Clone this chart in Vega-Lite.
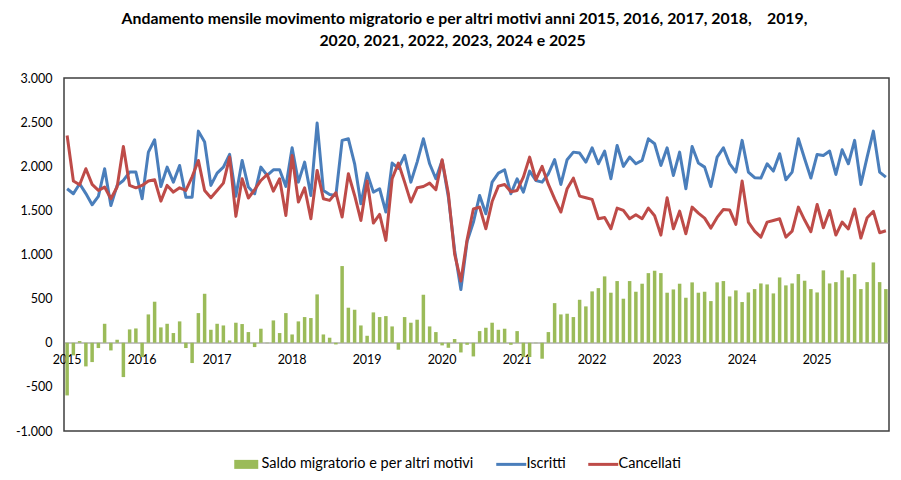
{
  "$schema": "https://vega.github.io/schema/vega-lite/v6.json",
  "width": 825,
  "height": 353,
  "autosize": {"type": "none"},
  "padding": {"left": 64, "top": 78, "right": 12, "bottom": 49},
  "background": "white",
  "title": {
    "text": ["Andamento mensile movimento migratorio e per altri motivi anni 2015, 2016, 2017, 2018,\u00a0\u00a0\u00a0 2019,", "2020, 2021, 2022, 2023, 2024 e 2025\u2800\u2800"],
    "font": "Lato",
    "fontSize": 15.8,
    "fontWeight": "bold",
    "color": "#000000",
    "anchor": "middle",
    "frame": "group",
    "dx": -12,
    "offset": 22,
    "lineHeight": 22
  },
  "config": {
    "locale": {"number": {"decimal": ",", "thousands": ".", "grouping": [3], "currency": ["€", ""], "minus": "-"}},
    "view": {"stroke": "#3F3F3F", "strokeWidth": 1.5},
    "axis": {"labelFont": "Lato", "labelFontSize": 12.5, "labelColor": "#000000", "grid": false, "ticks": false, "title": null},
    "legend": {"labelFont": "Lato", "labelFontSize": 14.5, "labelColor": "#000000"}
  },
  "data": {"values": [
    {"mese":"2015-01","iscritti":1745,"cancellati":2349,"saldo":-597},
    {"mese":"2015-02","iscritti":1688,"cancellati":1832,"saldo":-143},
    {"mese":"2015-03","iscritti":1802,"cancellati":1790,"saldo":19},
    {"mese":"2015-04","iscritti":1690,"cancellati":1972,"saldo":-268},
    {"mese":"2015-05","iscritti":1564,"cancellati":1794,"saldo":-219},
    {"mese":"2015-06","iscritti":1658,"cancellati":1726,"saldo":-60},
    {"mese":"2015-07","iscritti":1972,"cancellati":1764,"saldo":215},
    {"mese":"2015-08","iscritti":1556,"cancellati":1632,"saldo":-87},
    {"mese":"2015-09","iscritti":1783,"cancellati":1764,"saldo":34},
    {"mese":"2015-10","iscritti":1839,"cancellati":2225,"saldo":-389},
    {"mese":"2015-11","iscritti":1934,"cancellati":1783,"saldo":151},
    {"mese":"2015-12","iscritti":1934,"cancellati":1756,"saldo":162},
    {"mese":"2016-01","iscritti":1632,"cancellati":1783,"saldo":-162},
    {"mese":"2016-02","iscritti":2160,"cancellati":1832,"saldo":321},
    {"mese":"2016-03","iscritti":2300,"cancellati":1847,"saldo":465},
    {"mese":"2016-04","iscritti":1771,"cancellati":1605,"saldo":174},
    {"mese":"2016-05","iscritti":1990,"cancellati":1783,"saldo":215},
    {"mese":"2016-06","iscritti":1820,"cancellati":1707,"saldo":110},
    {"mese":"2016-07","iscritti":2009,"cancellati":1756,"saldo":242},
    {"mese":"2016-08","iscritti":1650,"cancellati":1726,"saldo":-60},
    {"mese":"2016-09","iscritti":1650,"cancellati":1880,"saldo":-230},
    {"mese":"2016-10","iscritti":2398,"cancellati":2066,"saldo":336},
    {"mese":"2016-11","iscritti":2274,"cancellati":1726,"saldo":555},
    {"mese":"2016-12","iscritti":1783,"cancellati":1643,"saldo":147},
    {"mese":"2017-01","iscritti":1922,"cancellati":1726,"saldo":215},
    {"mese":"2017-02","iscritti":1990,"cancellati":1809,"saldo":196},
    {"mese":"2017-03","iscritti":2134,"cancellati":2104,"saldo":26},
    {"mese":"2017-04","iscritti":1660,"cancellati":1432,"saldo":227},
    {"mese":"2017-05","iscritti":2066,"cancellati":1858,"saldo":212},
    {"mese":"2017-06","iscritti":1764,"cancellati":1640,"saldo":121},
    {"mese":"2017-07","iscritti":1688,"cancellati":1734,"saldo":-49},
    {"mese":"2017-08","iscritti":1990,"cancellati":1839,"saldo":159},
    {"mese":"2017-09","iscritti":1896,"cancellati":1907,"saldo":-5},
    {"mese":"2017-10","iscritti":1960,"cancellati":1718,"saldo":253},
    {"mese":"2017-11","iscritti":1960,"cancellati":1858,"saldo":110},
    {"mese":"2017-12","iscritti":1771,"cancellati":1443,"saldo":336},
    {"mese":"2018-01","iscritti":2209,"cancellati":2123,"saldo":94},
    {"mese":"2018-02","iscritti":1820,"cancellati":1594,"saldo":242},
    {"mese":"2018-03","iscritti":2047,"cancellati":1756,"saldo":291},
    {"mese":"2018-04","iscritti":1669,"cancellati":1405,"saldo":280},
    {"mese":"2018-05","iscritti":2489,"cancellati":1953,"saldo":548},
    {"mese":"2018-06","iscritti":1726,"cancellati":1632,"saldo":94},
    {"mese":"2018-07","iscritti":1681,"cancellati":1613,"saldo":57},
    {"mese":"2018-08","iscritti":1669,"cancellati":1700,"saldo":-19},
    {"mese":"2018-09","iscritti":2293,"cancellati":1424,"saldo":869},
    {"mese":"2018-10","iscritti":2311,"cancellati":1915,"saldo":397},
    {"mese":"2018-11","iscritti":2028,"cancellati":1669,"saldo":374},
    {"mese":"2018-12","iscritti":1575,"cancellati":1386,"saldo":196},
    {"mese":"2019-01","iscritti":1922,"cancellati":1832,"saldo":79},
    {"mese":"2019-02","iscritti":1707,"cancellati":1356,"saldo":344},
    {"mese":"2019-03","iscritti":1745,"cancellati":1454,"saldo":291},
    {"mese":"2019-04","iscritti":1481,"cancellati":1160,"saldo":302},
    {"mese":"2019-05","iscritti":2036,"cancellati":1858,"saldo":185},
    {"mese":"2019-06","iscritti":1975,"cancellati":2036,"saldo":-79},
    {"mese":"2019-07","iscritti":2123,"cancellati":1820,"saldo":291},
    {"mese":"2019-08","iscritti":1820,"cancellati":1594,"saldo":227},
    {"mese":"2019-09","iscritti":2047,"cancellati":1756,"saldo":261},
    {"mese":"2019-10","iscritti":2311,"cancellati":1771,"saldo":544},
    {"mese":"2019-11","iscritti":2028,"cancellati":1809,"saldo":185},
    {"mese":"2019-12","iscritti":1858,"cancellati":1734,"saldo":121},
    {"mese":"2020-01","iscritti":2066,"cancellati":2074,"saldo":-30},
    {"mese":"2020-02","iscritti":1650,"cancellati":1688,"saldo":-57},
    {"mese":"2020-03","iscritti":1046,"cancellati":1004,"saldo":42},
    {"mese":"2020-04","iscritti":604,"cancellati":700,"saldo":-110},
    {"mese":"2020-05","iscritti":1150,"cancellati":1170,"saldo":-23},
    {"mese":"2020-06","iscritti":1365,"cancellati":1515,"saldo":-155},
    {"mese":"2020-07","iscritti":1669,"cancellati":1537,"saldo":132},
    {"mese":"2020-08","iscritti":1462,"cancellati":1292,"saldo":170},
    {"mese":"2020-09","iscritti":1820,"cancellati":1600,"saldo":227},
    {"mese":"2020-10","iscritti":1922,"cancellati":1775,"saldo":147},
    {"mese":"2020-11","iscritti":1960,"cancellati":1794,"saldo":159},
    {"mese":"2020-12","iscritti":1688,"cancellati":1711,"saldo":-23},
    {"mese":"2021-01","iscritti":1858,"cancellati":1726,"saldo":132},
    {"mese":"2021-02","iscritti":1707,"cancellati":1877,"saldo":-162},
    {"mese":"2021-03","iscritti":1945,"cancellati":2104,"saldo":-162},
    {"mese":"2021-04","iscritti":1839,"cancellati":1847,"saldo":-5},
    {"mese":"2021-05","iscritti":1820,"cancellati":1998,"saldo":-181},
    {"mese":"2021-06","iscritti":1915,"cancellati":1794,"saldo":121},
    {"mese":"2021-07","iscritti":2075,"cancellati":1630,"saldo":449},
    {"mese":"2021-08","iscritti":1794,"cancellati":1481,"saldo":321},
    {"mese":"2021-09","iscritti":2074,"cancellati":1745,"saldo":329},
    {"mese":"2021-10","iscritti":2160,"cancellati":1865,"saldo":291},
    {"mese":"2021-11","iscritti":2149,"cancellati":1662,"saldo":487},
    {"mese":"2021-12","iscritti":2047,"cancellati":1643,"saldo":412},
    {"mese":"2022-01","iscritti":2209,"cancellati":1625,"saldo":582},
    {"mese":"2022-02","iscritti":2028,"cancellati":1405,"saldo":619},
    {"mese":"2022-03","iscritti":2172,"cancellati":1420,"saldo":752},
    {"mese":"2022-04","iscritti":1858,"cancellati":1292,"saldo":567},
    {"mese":"2022-05","iscritti":2236,"cancellati":1526,"saldo":699},
    {"mese":"2022-06","iscritti":1998,"cancellati":1499,"saldo":499},
    {"mese":"2022-07","iscritti":2104,"cancellati":1405,"saldo":699},
    {"mese":"2022-08","iscritti":2028,"cancellati":1450,"saldo":578},
    {"mese":"2022-09","iscritti":2066,"cancellati":1405,"saldo":669},
    {"mese":"2022-10","iscritti":2311,"cancellati":1526,"saldo":789},
    {"mese":"2022-11","iscritti":2255,"cancellati":1439,"saldo":816},
    {"mese":"2022-12","iscritti":2009,"cancellati":1220,"saldo":789},
    {"mese":"2023-01","iscritti":2209,"cancellati":1643,"saldo":567},
    {"mese":"2023-02","iscritti":1896,"cancellati":1292,"saldo":604},
    {"mese":"2023-03","iscritti":2160,"cancellati":1491,"saldo":669},
    {"mese":"2023-04","iscritti":1745,"cancellati":1235,"saldo":510},
    {"mese":"2023-05","iscritti":2224,"cancellati":1537,"saldo":684},
    {"mese":"2023-06","iscritti":2036,"cancellati":1469,"saldo":567},
    {"mese":"2023-07","iscritti":1990,"cancellati":1412,"saldo":578},
    {"mese":"2023-08","iscritti":1771,"cancellati":1299,"saldo":472},
    {"mese":"2023-09","iscritti":2104,"cancellati":1420,"saldo":684},
    {"mese":"2023-10","iscritti":2209,"cancellati":1510,"saldo":699},
    {"mese":"2023-11","iscritti":2030,"cancellati":1505,"saldo":525},
    {"mese":"2023-12","iscritti":1934,"cancellati":1341,"saldo":593},
    {"mese":"2024-01","iscritti":2293,"cancellati":1832,"saldo":461},
    {"mese":"2024-02","iscritti":1934,"cancellati":1367,"saldo":570},
    {"mese":"2024-03","iscritti":1870,"cancellati":1265,"saldo":608},
    {"mese":"2024-04","iscritti":1866,"cancellati":1197,"saldo":672},
    {"mese":"2024-05","iscritti":2028,"cancellati":1367,"saldo":661},
    {"mese":"2024-06","iscritti":1945,"cancellati":1386,"saldo":559},
    {"mese":"2024-07","iscritti":2142,"cancellati":1405,"saldo":740},
    {"mese":"2024-08","iscritti":1847,"cancellati":1197,"saldo":650},
    {"mese":"2024-09","iscritti":1934,"cancellati":1265,"saldo":672},
    {"mese":"2024-10","iscritti":2311,"cancellati":1537,"saldo":778},
    {"mese":"2024-11","iscritti":2085,"cancellati":1390,"saldo":703},
    {"mese":"2024-12","iscritti":1866,"cancellati":1258,"saldo":608},
    {"mese":"2025-01","iscritti":2134,"cancellati":1567,"saldo":570},
    {"mese":"2025-02","iscritti":2123,"cancellati":1303,"saldo":820},
    {"mese":"2025-03","iscritti":2172,"cancellati":1499,"saldo":672},
    {"mese":"2025-04","iscritti":1907,"cancellati":1220,"saldo":687},
    {"mese":"2025-05","iscritti":2187,"cancellati":1367,"saldo":820},
    {"mese":"2025-06","iscritti":2028,"cancellati":1290,"saldo":740},
    {"mese":"2025-07","iscritti":2293,"cancellati":1515,"saldo":778},
    {"mese":"2025-08","iscritti":1794,"cancellati":1186,"saldo":608},
    {"mese":"2025-09","iscritti":2104,"cancellati":1417,"saldo":687},
    {"mese":"2025-10","iscritti":2398,"cancellati":1488,"saldo":910},
    {"mese":"2025-11","iscritti":1934,"cancellati":1247,"saldo":687},
    {"mese":"2025-12","iscritti":1877,"cancellati":1269,"saldo":608}
  ]},
  "layer": [
    {
      "mark": {"type": "bar", "color": "#9BBB59"},
      "encoding": {
        "x": {
          "field": "mese", "type": "ordinal", "sort": "ascending",
          "scale": {"paddingInner": 0.44, "paddingOuter": 0.22},
          "axis": {
            "title": null,
            "labelExpr": "substring(datum.value, 5, 7) == '01' ? substring(datum.value, 0, 4) : ''",
            "labelAngle": 0,
            "labelOverlap": false,
            "labelFontSize": 12.5,
            "labelPadding": 11,
            "ticks": false,
            "domainColor": "#868686",
            "domainWidth": 1,
            "offset": -88.5
          }
        },
        "y": {
          "field": "saldo", "type": "quantitative",
          "scale": {"domain": [-1000, 3000], "nice": false, "zero": false},
          "axis": {"title": null, "values": [-1000, -500, 0, 500, 1000, 1500, 2000, 2500, 3000], "format": ",d", "domain": false, "labelPadding": 12}
        },
        "color": {
          "datum": "Saldo migratorio e per altri motivi",
          "type": "nominal",
          "scale": {"domain": ["Saldo migratorio e per altri motivi", "Iscritti", "Cancellati"], "range": ["#9BBB59", "#4A7EBB", "#BE4B48"]},
          "legend": {
            "orient": "none",
            "legendX": 175,
            "legendY": 379,
            "direction": "horizontal",
            "title": null,
            "symbolSize": 900,
            "columnPadding": 16,
            "labelOffset": 8,
            "labelLimit": 0,
            "encode": {
              "symbols": {
                "update": {
                  "shape": {"signal": "datum.value === 'Saldo migratorio e per altri motivi' ? 'M-0.8,-0.3H0.8V0.3H-0.8Z' : 'stroke'"},
                  "size": {"value": 900},
                  "fill": {"signal": "datum.value === 'Saldo migratorio e per altri motivi' ? '#9BBB59' : 'transparent'"},
                  "stroke": {"signal": "datum.value === 'Saldo migratorio e per altri motivi' ? '#9BBB59' : (datum.value === 'Iscritti' ? '#4A7EBB' : '#BE4B48')"},
                  "strokeWidth": {"signal": "datum.value === 'Saldo migratorio e per altri motivi' ? 0 : 3"},
                  "opacity": {"value": 1}
                }
              }
            }
          }
        }
      }
    },
    {
      "mark": {"type": "line", "strokeWidth": 3, "strokeJoin": "round"},
      "encoding": {
        "x": {"field": "mese", "type": "ordinal", "sort": "ascending"},
        "y": {"field": "iscritti", "type": "quantitative"},
        "color": {"datum": "Iscritti", "type": "nominal"}
      }
    },
    {
      "mark": {"type": "line", "strokeWidth": 3, "strokeJoin": "round"},
      "encoding": {
        "x": {"field": "mese", "type": "ordinal", "sort": "ascending"},
        "y": {"field": "cancellati", "type": "quantitative"},
        "color": {"datum": "Cancellati", "type": "nominal"}
      }
    }
  ]
}
